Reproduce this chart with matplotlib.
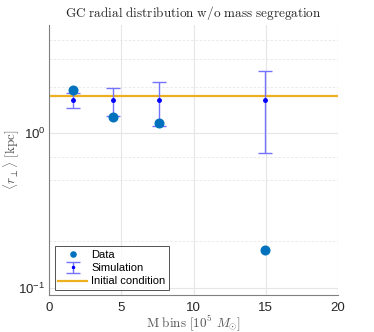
import matplotlib
matplotlib.use('Agg')
import matplotlib.pyplot as plt
from matplotlib.ticker import FixedLocator, NullFormatter

plt.rcParams['font.family'] = ['Liberation Sans', 'DejaVu Sans']
plt.rcParams['mathtext.fontset'] = 'cm'

# mass bins [1e5 Msun]
data_x = [1.65, 4.45, 7.6, 14.95]
data_r = [1.91, 1.28, 1.16, 0.175]

sim_x = [1.65, 4.45, 7.6, 14.95]
sim_r = [1.63, 1.63, 1.63, 1.63]
sim_lo = [1.46, 1.30, 1.12, 0.745]
sim_hi = [1.82, 1.95, 2.13, 2.52]

initial_r = 1.73


def main():
    fig = plt.figure(figsize=(3.74, 3.32), dpi=100)
    ax = fig.add_axes([0.131, 0.111, 0.773, 0.814])

    h_data, = ax.plot(data_x, data_r, 'o', color='#0072BD', markersize=6.2,
                      label='Data', zorder=4)

    yerr = [[m - lo for m, lo in zip(sim_r, sim_lo)],
            [hi - m for m, hi in zip(sim_r, sim_hi)]]
    h_sim = ax.errorbar(sim_x, sim_r, yerr=yerr, fmt='.', color='blue',
                        ecolor=(0.45, 0.45, 1.0), elinewidth=1.0,
                        capsize=5.3, capthick=1.0, markersize=5,
                        label='Simulation', zorder=3)

    h_init = ax.axhline(initial_r, color='#EDB120', linewidth=1.6,
                        label='Initial condition', zorder=2)

    ax.set_yscale('log')
    ax.set_xlim(0, 20)
    ax.set_ylim(0.09, 5)
    ax.set_xticks([0, 5, 10, 15, 20])
    ax.yaxis.set_major_locator(FixedLocator([0.1, 1]))
    ax.yaxis.set_minor_locator(FixedLocator([0.2, 0.5, 0.7, 2, 3, 4]))
    ax.yaxis.set_minor_formatter(NullFormatter())

    ax.grid(True, which='major', color='#e6e6e6', linewidth=0.8, zorder=0)
    ax.grid(True, which='minor', axis='y', color='#e6e6e6',
            linestyle=(0, (3, 2)), linewidth=0.6, zorder=0)
    ax.set_axisbelow(True)

    for s in ('top', 'right'):
        ax.spines[s].set_visible(False)
    for s in ('left', 'bottom'):
        ax.spines[s].set_color('#808080')
        ax.spines[s].set_linewidth(0.8)
    ax.tick_params(which='both', length=0, labelsize=9.5, colors='#262626')
    ax.tick_params(axis='x', pad=5)
    ax.tick_params(axis='y', pad=2.5)

    ax.set_title(r'$\mathrm{GC\ radial\ distribution\ w/o\ mass\ segregation}$',
                 fontsize=9.5, color='#262626', pad=6)
    ax.set_xlabel(r'$\mathrm{M\ bins\ [10^5}\ M_{\odot}]$', fontsize=9.5,
                  color='#555555', va='center', ha='center')
    ax.set_ylabel(r'$\langle r_{\perp}\rangle\ \mathrm{[kpc]}$', fontsize=9.5,
                  color='#555555', va='center', ha='center')
    ax.xaxis.set_label_coords(0.5, -0.103)
    ax.yaxis.set_label_coords(-0.128, 0.5)

    leg = ax.legend([h_data, h_sim, h_init],
                    ['Data', 'Simulation', 'Initial condition'],
                    loc='lower left', fontsize=8, frameon=True,
                    fancybox=False, edgecolor='#262626', handlelength=2.6,
                    borderpad=0.3, labelspacing=0.3, handletextpad=0.4,
                    markerscale=0.6, borderaxespad=0,
                    bbox_to_anchor=(0.02, 0.02))
    leg.get_frame().set_linewidth(0.7)

    plt.savefig('out.png', dpi=100)


if __name__ == '__main__':
    main()
